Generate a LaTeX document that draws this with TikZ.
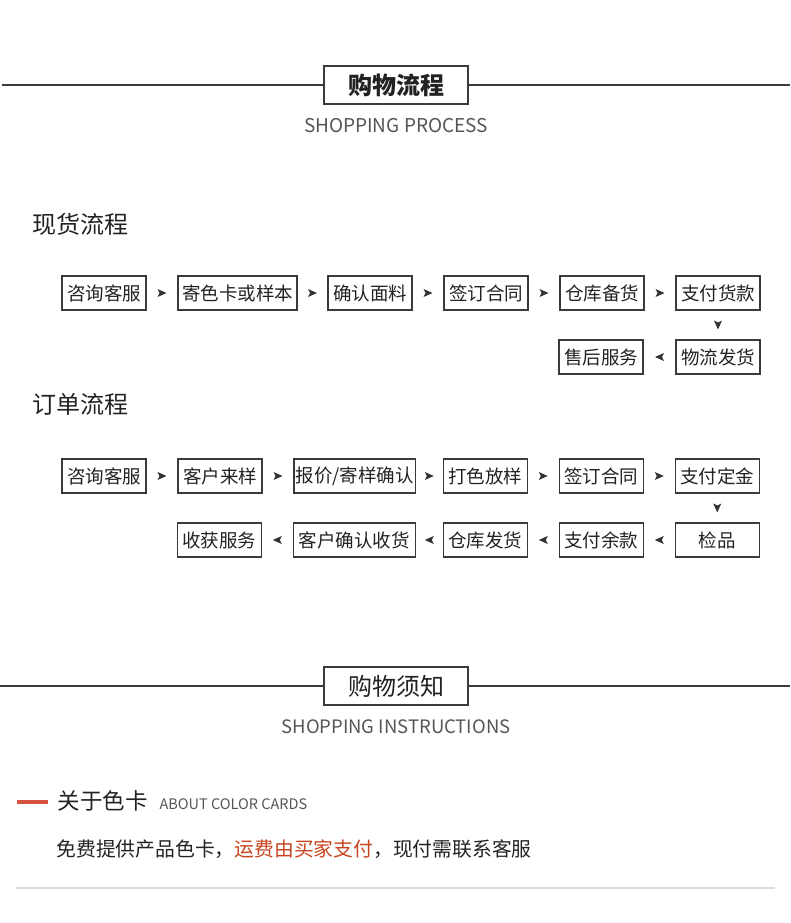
\documentclass[tikz,border=0pt]{standalone}
\usepackage{xcolor}
\usepackage{fontspec}
\setmainfont{Noto Sans CJK SC}
\usepackage{tikz}
\usetikzlibrary{positioning, decorations.markings}

\definecolor{boxgray}{HTML}{3A3A3A}
\definecolor{arrowgray}{HTML}{333333}
\definecolor{textdark}{HTML}{222222}
\definecolor{subgray}{HTML}{555555}
\definecolor{accentred}{HTML}{D4503F}
\definecolor{notered}{HTML}{C8441E}
\definecolor{rulelight}{HTML}{DDDDDD}

\begin{document}
\begin{tikzpicture}[x=1pt, y=-1pt, node distance=32pt, font=\fontsize{18.5}{20}\selectfont]
\tikzstyle{stepbox} = [rectangle, draw=boxgray, line width=1.2pt, minimum width=84pt, minimum height=34pt, inner xsep=4pt, outer sep=0pt, text=textdark]
\tikzstyle{titlebox} = [rectangle, draw=boxgray, line width=1.4pt, minimum width=144pt, minimum height=38pt, text=textdark]
\tikzstyle{rule} = [draw=boxgray, line width=1.2pt]
\tikzstyle{flow} = [decoration={markings, mark=at position 0.5 with {\fill[arrowgray] (4.5pt,0pt) -- (-4.5pt,4pt) -- (-2.5pt,0pt) -- (-4.5pt,-4pt) -- cycle;}}, decorate]

\useasboundingbox (0,0) rectangle (790,923);

% heading: shopping process
\node (head1) [titlebox, font=\fontsize{24}{26}\selectfont\bfseries] at (396,85) {购物流程};
\node (sub1) [font=\fontsize{19}{20}\selectfont, text=subgray] at (396,126) {SHOPPING PROCESS};
\coordinate (h1l) at (2,85);
\coordinate (h1r) at (790,85);
\draw [rule] (h1l) -- (head1.west);
\draw [rule] (head1.east) -- (h1r);

% spot goods
\node (sec1) [anchor=west, font=\fontsize{24}{26}\selectfont, text=textdark] at (29,224) {现货流程};
\node (r1a) [stepbox, anchor=west] at (62,293) {咨询客服};
\node (r1b) [stepbox, right=of r1a] {寄色卡或样本};
\node (r1c) [stepbox, right=31pt of r1b] {确认面料};
\node (r1d) [stepbox, right=of r1c] {签订合同};
\node (r1e) [stepbox, right=of r1d] {仓库备货};
\node (r1f) [stepbox, right=of r1e] {支付货款};
\node (r1g) [stepbox, below=30pt of r1f] {物流发货};
\node (r1h) [stepbox, left=33pt of r1g] {售后服务};

\path [flow] (r1a) -- (r1b);
\path [flow] (r1b) -- (r1c);
\path [flow] (r1c) -- (r1d);
\path [flow] (r1d) -- (r1e);
\path [flow] (r1e) -- (r1f);
\path [flow] (r1f) -- (r1g);
\path [flow] (r1g) -- (r1h);

% order goods
\node (sec2) [anchor=west, font=\fontsize{24}{26}\selectfont, text=textdark] at (29,404) {订单流程};
\node (r2a) [stepbox, anchor=west] at (62,476) {咨询客服};
\node (r2b) [stepbox, right=of r2a] {客户来样};
\node (r2c) [stepbox, inner xsep=1.5pt, right=of r2b] {报价/寄样确认};
\node (r2d) [stepbox, right=28pt of r2c] {打色放样};
\node (r2e) [stepbox, right=of r2d] {签订合同};
\node (r2f) [stepbox, right=of r2e] {支付定金};
\node (r2g) [stepbox, below=30pt of r2f] {检品};
\node (r2h) [stepbox, left=of r2g] {支付余款};
\node (r2i) [stepbox, left=of r2h] {仓库发货};
\node (r2j) [stepbox, minimum width=122pt, left=28pt of r2i] {客户确认收货};
\node (r2k) [stepbox, left=of r2j] {收获服务};

\path [flow] (r2a) -- (r2b);
\path [flow] (r2b) -- (r2c);
\path [flow] (r2c) -- (r2d);
\path [flow] (r2d) -- (r2e);
\path [flow] (r2e) -- (r2f);
\path [flow] (r2f) -- (r2g);
\path [flow] (r2g) -- (r2h);
\path [flow] (r2h) -- (r2i);
\path [flow] (r2i) -- (r2j);
\path [flow] (r2j) -- (r2k);

% heading: shopping instructions
\node (head2) [titlebox, font=\fontsize{24}{26}\selectfont] at (396,686) {购物须知};
\node (sub2) [font=\fontsize{18.5}{20}\selectfont, text=subgray] at (396,727) {SHOPPING INSTRUCTIONS};
\coordinate (h2l) at (0,686);
\coordinate (h2r) at (790,686);
\draw [rule] (h2l) -- (head2.west);
\draw [rule] (head2.east) -- (h2r);

% color cards
\draw [accentred, line width=4pt] (17,802) -- (48,802);
\node (card) [anchor=west, font=\fontsize{22.5}{24}\selectfont, text=textdark] at (54,801) {关于色卡};
\node (cardsub) [anchor=base west, xshift=5pt, font=\fontsize{14.5}{16}\selectfont, text=subgray] at (card.base east) {ABOUT COLOR CARDS};
\node (cardnote) [anchor=west, font=\fontsize{19.8}{22}\selectfont, text=textdark] at (53,849) {免费提供产品色卡，\textcolor{notered}{运费由买家支付}，现付需联系客服};
\draw [rulelight, line width=2pt] (16,888) -- (775,888);
\end{tikzpicture}
\end{document}
